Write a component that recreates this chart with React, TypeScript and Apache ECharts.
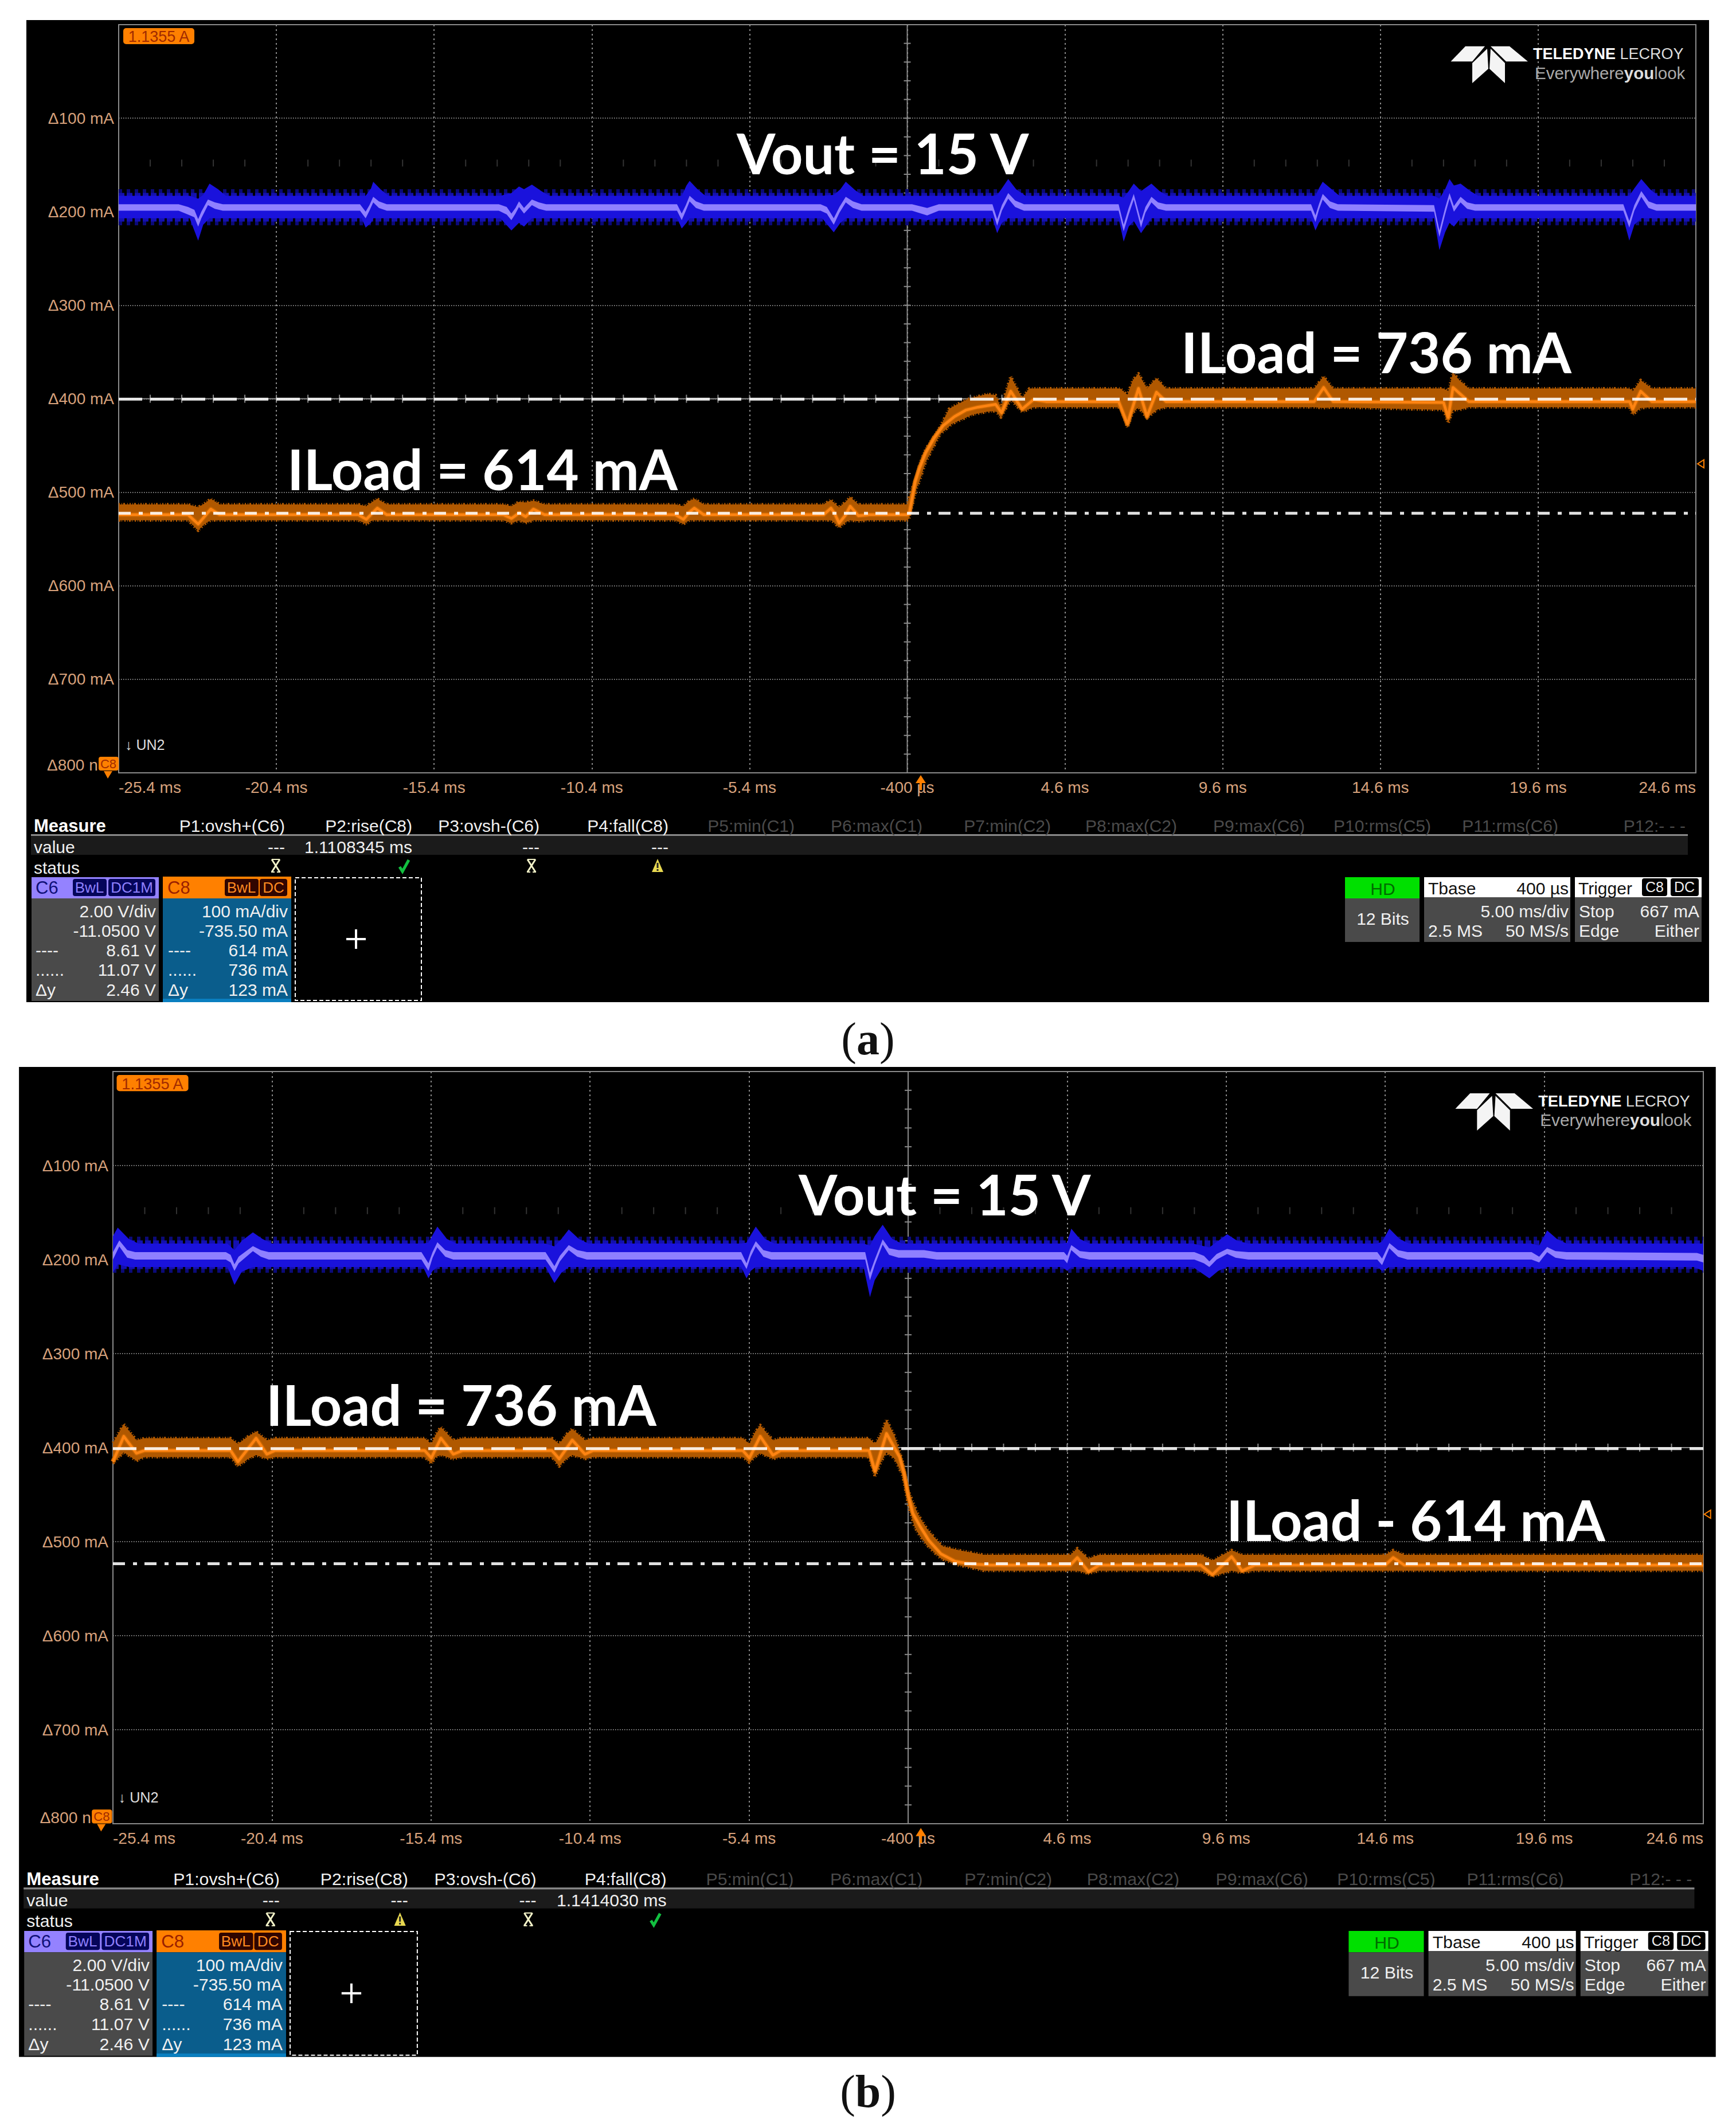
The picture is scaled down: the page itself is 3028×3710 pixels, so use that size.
import React, { useEffect, useRef } from "react";
import * as echarts from "echarts";

// ---- axes ----
const xTickLabels = ["-25.4 ms", "-20.4 ms", "-15.4 ms", "-10.4 ms", "-5.4 ms", "-400 µs", "4.6 ms", "9.6 ms", "14.6 ms", "19.6 ms", "24.6 ms"];
const yTickLabels = ["", "Δ100 mA", "Δ200 mA", "Δ300 mA", "Δ400 mA", "Δ500 mA", "Δ600 mA", "Δ700 mA", ""];
const lastYLabel = "Δ800 n";

// ---- cursors (mA below top of screen) ----
const cursorHighA = [[-25, 400.5], [25, 400.5]];
const cursorLowA = [[-25, 522.4], [25, 522.4]];
const cursorHighB = [[-25, 401], [25, 401]];
const cursorLowB = [[-25, 523.4], [25, 523.4]];

// ---- Vout persistence comb centre ----
const blueCombA = [[-25, 195.3], [25, 195.3]];
const blueCombB = [[-25, 194.8], [25, 194.8]];

// ---- rows: [ms from centre, upper edge, lower edge] ----
const blueEnvA = [
  [-25, 183, 207], [-22.75, 183, 207], [-22.48, 186, 231], [-22.32, 182, 214], [-22.12, 170, 207], [-21.85, 176, 207], [-21.6, 183, 207],
  [-17.3, 183, 207], [-17.17, 183, 217], [-17.0, 175, 212], [-16.93, 168, 207], [-16.7, 176, 207], [-16.45, 183, 207],
  [-12.9, 183, 207], [-12.55, 180, 220], [-12.31, 173, 212], [-12.15, 176, 216], [-11.9, 171, 207], [-11.6, 178, 207], [-11.35, 183, 207],
  [-7.3, 183, 207], [-7.15, 183, 218], [-7.0, 172, 212], [-6.9, 167, 207], [-6.65, 176, 207], [-6.4, 183, 207],
  [-2.7, 183, 207], [-2.33, 182, 222], [-2.12, 176, 212], [-1.95, 168, 207], [-1.65, 177, 207], [-1.4, 183, 207],
  [0.2, 183, 207], [0.63, 183, 209], [1.0, 183, 207],
  [2.7, 183, 207], [2.85, 182, 223], [3.0, 175, 212], [3.2, 165, 207], [3.45, 176, 207], [3.75, 183, 207],
  [6.7, 183, 207], [6.86, 185, 232], [7.02, 178, 216], [7.18, 170, 210], [7.41, 178, 223], [7.74, 170, 207], [8.0, 178, 207], [8.25, 183, 207],
  [12.8, 183, 207], [12.94, 183, 220], [13.05, 175, 212], [13.17, 168, 207], [13.45, 176, 207], [13.7, 183, 207],
  [16.7, 183, 207], [16.87, 186, 241], [17.05, 176, 222], [17.19, 165, 212], [17.33, 172, 216], [17.54, 170, 207], [17.85, 178, 207], [18.1, 183, 207],
  [22.7, 183, 207], [22.89, 183, 231], [23.05, 175, 214], [23.27, 165, 207], [23.55, 176, 207], [23.8, 183, 207],
  [25, 183, 207],
];
const blueCoreA = [
  [-25, 192, 199], [-23.1, 192, 199], [-22.8, 195, 203], [-22.6, 198, 206], [-22.48, 208, 216], [-22.38, 200, 207], [-22.17, 187, 193], [-21.95, 190, 197], [-21.7, 192, 199],
  [-17.35, 192, 199], [-17.17, 200, 207], [-17.05, 193, 199], [-16.93, 184, 190], [-16.75, 189, 196], [-16.5, 192, 199],
  [-12.95, 192, 199], [-12.7, 195, 203], [-12.55, 202, 209], [-12.42, 196, 202], [-12.31, 189, 195], [-12.15, 196, 202], [-11.9, 187, 193], [-11.68, 190, 197], [-11.45, 192, 199],
  [-7.3, 192, 199], [-7.15, 202, 209], [-7.02, 193, 199], [-6.9, 183, 189], [-6.7, 189, 196], [-6.45, 192, 199],
  [-2.75, 192, 199], [-2.55, 195, 202], [-2.33, 207, 214], [-2.15, 195, 201], [-1.95, 184, 190], [-1.72, 189, 196], [-1.45, 192, 199],
  [0.15, 192, 199], [0.63, 196, 204], [1.0, 192, 199],
  [2.7, 192, 199], [2.85, 208, 215], [3.0, 193, 199], [3.2, 180, 186], [3.42, 188, 195], [3.7, 192, 199],
  [6.7, 192, 199], [6.86, 214, 221], [7.02, 196, 203], [7.18, 181, 187], [7.41, 210, 217], [7.55, 195, 201], [7.74, 184, 190], [7.95, 190, 197], [8.2, 192, 199],
  [12.8, 192, 199], [12.94, 204, 211], [13.05, 192, 198], [13.17, 181, 187], [13.4, 189, 196], [13.65, 192, 199],
  [16.7, 193, 200], [16.87, 220, 227], [17.05, 196, 203], [17.19, 180, 186], [17.33, 194, 200], [17.54, 184, 190], [17.75, 190, 197], [18.0, 192, 199],
  [22.7, 192, 199], [22.89, 210, 217], [23.05, 193, 199], [23.27, 178, 184], [23.5, 189, 196], [23.75, 192, 199],
  [25, 192, 199],
];
const blueEnvB = [
  [-25, 175, 214], [-24.85, 166, 205], [-24.5, 178, 208], [-24.2, 183, 208], [-21.4, 183, 208], [-21.18, 190, 227], [-20.95, 180, 213], [-20.6, 171, 208], [-20.3, 178, 208], [-20.0, 183, 208],
  [-15.25, 183, 208], [-15.08, 182, 220], [-14.95, 174, 212], [-14.8, 165, 208], [-14.5, 178, 208], [-14.2, 183, 208],
  [-11.4, 183, 208], [-11.12, 186, 225], [-10.9, 178, 214], [-10.67, 168, 208], [-10.35, 178, 208], [-10.05, 183, 208],
  [-5.25, 183, 208], [-5.08, 182, 220], [-4.95, 174, 212], [-4.79, 165, 208], [-4.5, 178, 208], [-4.2, 183, 208],
  [-1.4, 183, 208], [-1.2, 185, 240], [-1.05, 175, 222], [-0.8, 163, 208], [-0.5, 178, 208], [-0.2, 183, 208],
  [4.85, 183, 208], [5.0, 182, 212], [5.13, 167, 208], [5.4, 178, 208], [5.7, 183, 208],
  [8.95, 183, 208], [9.47, 187, 220], [9.75, 180, 212], [10.03, 173, 208], [10.35, 180, 208], [10.7, 183, 208],
  [14.75, 183, 208], [14.9, 181, 212], [15.13, 167, 208], [15.45, 178, 208], [15.75, 183, 208],
  [19.6, 183, 208], [19.84, 185, 210], [20.09, 169, 208], [20.4, 178, 208], [20.7, 183, 208],
  [24.7, 183, 208], [25, 183, 212],
];
const blueCoreB = [
  [-25, 192, 200], [-24.8, 179.5, 186], [-24.55, 190, 198], [-24.3, 192, 200],
  [-21.45, 192, 200], [-21.3, 195, 203], [-21.18, 205, 212], [-21.05, 197, 204], [-20.6, 185.6, 191], [-20.35, 190, 197], [-20.1, 192, 200],
  [-15.3, 192, 200], [-15.08, 204, 212], [-14.95, 192, 198], [-14.8, 181.6, 187], [-14.55, 190, 197], [-14.3, 192, 200],
  [-11.4, 192, 200], [-11.12, 207, 214], [-10.95, 196, 202], [-10.67, 184.6, 190], [-10.4, 190, 197], [-10.1, 192, 200],
  [-5.25, 192, 200], [-5.08, 204, 210], [-4.95, 191, 197], [-4.79, 180.5, 186], [-4.55, 190, 197], [-4.3, 192, 200],
  [-1.35, 192, 200], [-1.2, 214, 222], [-1.05, 200, 206], [-0.8, 178.5, 184], [-0.6, 188, 195], [-0.3, 190, 198], [0.5, 190, 198], [0.9, 192, 200],
  [4.9, 192, 200], [5.0, 196, 204], [5.13, 184.6, 190], [5.4, 191, 198], [5.7, 192, 200],
  [9.0, 192, 200], [9.3, 196, 204], [9.47, 202, 208], [9.7, 194, 200], [10.03, 188.6, 194], [10.3, 191, 198], [10.7, 192, 200],
  [14.75, 192, 200], [14.9, 199, 206], [15.13, 182.5, 188], [15.4, 190, 197], [15.7, 192, 200],
  [19.6, 192, 200], [19.84, 197, 203], [20.09, 186.6, 192], [20.35, 191, 198], [20.7, 192, 200],
  [24.8, 193, 201], [25, 195, 203],
];
const orangeEnvA = [
  [-25, 513, 530], [-22.8, 513, 530], [-22.48, 516, 541], [-22.28, 512, 534], [-22.08, 507, 530], [-21.8, 513, 530],
  [-17.4, 513, 530], [-17.15, 515, 534], [-16.95, 510, 530], [-16.8, 507, 530], [-16.5, 513, 530],
  [-12.8, 513, 530], [-12.55, 515, 533], [-12.3, 510, 530], [-12.1, 511, 533], [-11.85, 509, 530], [-11.5, 513, 530],
  [-7.35, 513, 530], [-7.1, 515, 534], [-6.9, 509, 530], [-6.75, 507, 530], [-6.45, 513, 530],
  [-2.65, 513, 530], [-2.42, 508, 530], [-2.3, 512, 533], [-2.16, 516, 538], [-1.95, 510, 532], [-1.81, 505, 530], [-1.55, 513, 531], [-1.2, 513, 530],
  [0.0, 513, 530], [0.06, 505, 528], [0.3, 482, 495], [0.39, 470, 488], [0.58, 454, 468], [1.04, 430, 438], [1.32, 411, 430], [1.41, 409, 427], [1.87, 401, 420], [2.06, 399, 417], [2.52, 395, 414], [2.8, 396, 413], [2.97, 409, 420], [3.28, 376, 401], [3.64, 399, 414], [3.87, 389, 411], [4.0, 389, 409],
  [6.75, 389, 409], [6.98, 396, 431], [7.15, 380, 415], [7.33, 373, 409], [7.6, 389, 421], [7.9, 378, 412], [8.2, 389, 409],
  [12.9, 389, 409], [13.2, 376, 410], [13.5, 389, 409],
  [17.0, 389, 412], [17.15, 392, 426], [17.3, 372, 412], [17.5, 380, 412], [17.8, 389, 409],
  [22.9, 389, 409], [23.0, 392, 417], [23.25, 380, 410], [23.6, 389, 409], [25, 389, 409],
];
const orangeCoreA = [
  [-25, 524], [-22.8, 524], [-22.48, 534], [-22.28, 526], [-22.08, 518], [-21.8, 524], [-17.4, 524], [-17.15, 529], [-16.95, 522], [-16.8, 517], [-16.5, 524],
  [-12.8, 524], [-12.55, 528], [-12.3, 522], [-12.1, 526], [-11.85, 518], [-11.5, 524], [-7.35, 524], [-7.1, 529], [-6.9, 521], [-6.75, 517], [-6.45, 524],
  [-2.65, 524], [-2.42, 517], [-2.3, 523], [-2.16, 533], [-1.95, 524], [-1.81, 515], [-1.55, 525], [-1.2, 524], [0.0, 524], [0.06, 523], [0.25, 489], [0.39, 474], [0.58, 458], [0.85, 442], [1.13, 429], [1.5, 419], [1.87, 412], [2.24, 409], [2.8, 406], [2.99, 415], [3.28, 392], [3.64, 411], [4.0, 401], [4.4, 403],
  [6.7, 403], [6.98, 427], [7.33, 389], [7.6, 419], [7.9, 393], [8.2, 403], [12.9, 403], [13.2, 388], [13.5, 403], [17.0, 404], [17.15, 420], [17.3, 388], [17.5, 394], [17.8, 403], [22.9, 403], [23.0, 411], [23.25, 392], [23.6, 403], [25, 403],
];
const orangeEnvB = [
  [-25, 395, 417], [-24.66, 375, 405], [-24.26, 392, 414], [-24, 390, 410], [-21.3, 390, 410], [-21.07, 396, 420], [-20.75, 388, 412], [-20.5, 383, 408], [-20.16, 392, 412], [-19.9, 390, 410],
  [-15.2, 390, 410], [-14.99, 396, 417], [-14.85, 386, 410], [-14.69, 378, 408], [-14.3, 392, 412], [-14, 390, 410],
  [-11.2, 390, 410], [-10.97, 396, 420], [-10.75, 386, 412], [-10.56, 380, 408], [-10.16, 392, 412], [-9.9, 390, 410],
  [-5.2, 390, 410], [-4.99, 396, 416], [-4.82, 384, 410], [-4.65, 376, 406], [-4.25, 392, 412], [-4, 390, 410],
  [-1.23, 390, 410], [-1.04, 396, 431], [-0.85, 385, 415], [-0.68, 370, 405], [-0.42, 388, 412], [-0.17, 415, 430], [0.01, 446, 462], [0.2, 462, 484], [0.33, 472, 492], [0.57, 485, 503], [0.74, 492, 509], [1.03, 503, 518], [1.1, 505, 519], [1.58, 509, 525], [2.39, 514, 531],
  [5.1, 514, 531], [5.32, 507, 531], [5.67, 518, 534], [6.0, 514, 531], [9.2, 514, 531], [9.57, 520, 537], [10.17, 509, 531], [10.5, 514, 533], [10.9, 514, 531], [15.0, 514, 531], [15.25, 509, 531], [15.6, 514, 531], [25, 514, 531],
];
const orangeCoreB = [
  [-25, 415], [-24.66, 388], [-24.26, 406], [-24, 403], [-21.3, 403], [-21.07, 415], [-20.5, 390], [-20.16, 407], [-19.9, 403], [-15.2, 403], [-14.99, 411], [-14.69, 390], [-14.3, 407], [-14, 403], [-11.2, 403], [-10.97, 412], [-10.56, 392], [-10.16, 407], [-9.9, 403], [-5.2, 403], [-4.99, 411], [-4.65, 388], [-4.25, 408], [-4, 403],
  [-1.23, 403], [-1.04, 425], [-0.68, 385], [-0.27, 410], [-0.13, 427], [0.01, 452], [0.15, 470], [0.38, 484], [0.65, 498.6], [1.03, 513], [1.48, 521], [2.03, 524], [2.6, 525], [5.1, 525], [5.32, 517], [5.67, 532], [6.0, 525], [9.2, 525], [9.57, 535], [10.17, 516], [10.5, 531], [10.9, 525], [15.0, 525], [15.25, 517], [15.6, 525], [25, 525],
];

// ---- screen texts ----
const measureHeaders = ["P1:ovsh+(C6)", "P2:rise(C8)", "P3:ovsh-(C6)", "P4:fall(C8)", "P5:min(C1)", "P6:max(C1)", "P7:min(C2)", "P8:max(C2)", "P9:max(C6)", "P10:rms(C5)", "P11:rms(C6)", "P12:- - -"];
const measureValuesA = ["---", "1.1108345 ms", "---", "---"];
const measureValuesB = ["---", "---", "---", "1.1414030 ms"];
const statusA = ["bad", "ok", "bad", "warn"];
const statusB = ["bad", "warn", "bad", "ok"];
const c6Rows = ["2.00 V/div", "-11.0500 V", "8.61 V", "11.07 V", "2.46 V"];
const c8Rows = ["100 mA/div", "-735.50 mA", "614 mA", "736 mA", "123 mA"];
const rowKeys = ["", "", "----", "......", "Δy"];
const notesA = [["Vout = 15 V", 1285, 266], ["ILoad = 736 mA", 2060, 613], ["ILoad = 614 mA", 501, 817]];
const notesB = [["Vout = 15 V", 1393, 2082], ["ILoad = 736 mA", 464, 2449], ["ILoad - 614 mA", 2139, 2650]];

const FONT = "Liberation Sans";
const TAN = "#d8a27c";
const GRID = "#8a8a8a";

function bandSeries(rows: number[][], fill: string, g: number, z: number) {
  return {
    type: "custom", xAxisIndex: g, yAxisIndex: g, silent: true, data: rows, encode: { x: 0, y: [1, 2] }, z,
    renderItem(params: any, api: any) {
      if (params.dataIndex !== 0) return null;
      const up = rows.map((r) => api.coord([r[0], r[1]]));
      const low = rows.slice().reverse().map((r) => api.coord([r[0], r[2]]));
      return { type: "polygon", shape: { points: [...up, ...low] }, style: { fill } };
    },
  };
}
function lineSeries(rows: number[][], color: string, width: number, g: number, z: number, dash?: number[], opacity = 1) {
  return {
    type: "line", xAxisIndex: g, yAxisIndex: g, silent: true, symbol: "none", showSymbol: false, data: rows, z,
    lineStyle: { color, width, opacity, type: dash || "solid", cap: "butt", join: "round" },
  };
}
function tickSeries(rows: number[][], color: string, dx: number, dy: number, g: number) {
  return {
    type: "custom", xAxisIndex: g, yAxisIndex: g, silent: true, data: rows, encode: { x: 0, y: 1 }, z: 1,
    renderItem(_: any, api: any) {
      const p = api.coord([api.value(0), api.value(1)]);
      return { type: "line", shape: { x1: p[0] - dx, y1: p[1] - dy, x2: p[0] + dx, y2: p[1] + dy }, style: { stroke: color, lineWidth: 2 } };
    },
  };
}

function panelSeries(g: number, d: any) {
  const colTicks: number[][] = [];
  for (let v = 20; v < 800; v += 20) colTicks.push([0, v]);
  const rowTicks: number[][] = [];
  const faint: number[][] = [];
  for (let t = -24; t < 25; t += 1) {
    rowTicks.push([t, 400]);
    if (t % 5 !== 0) faint.push([t, 148]);
  }
  return [
    tickSeries(colTicks, "#8a8a8a", 6, 0, g),
    tickSeries(rowTicks, "#8a8a8a", 0, 7, g),
    tickSeries(faint, "#333", 0, 6, g),
    lineSeries([[0, 0], [0, 800]], GRID, 2, g, 1),
    lineSeries([[-25, 400], [25, 400]], GRID, 2, g, 1),
    lineSeries(d.comb, "#0b0a78", 63, g, 2, [6, 8]),
    lineSeries(d.comb, "#1410b0", 50, g, 3, [10, 4]),
    bandSeries(d.blueEnv, "#1a12dc", g, 4),
    bandSeries(d.blueCore, "#8f80ff", g, 5),
    bandSeries(d.orangeEnv, "#b05800", g, 6),
    lineSeries(d.orangeEnv.map((r: number[]) => [r[0], r[1]]), "#b05800", 5, g, 6, [2, 3, 1, 2, 3, 4, 1, 3]),
    lineSeries(d.orangeEnv.map((r: number[]) => [r[0], r[2]]), "#b05800", 5, g, 6, [3, 2, 1, 4, 2, 3, 1, 2]),
    lineSeries(d.orangeCore, "#c96600", 8, g, 7),
    lineSeries(d.orangeCore, "#ff8412", 4.5, g, 8),
    lineSeries(d.high, "#ffffff", 5, g, 9, [41, 14], 0.88),
    lineSeries(d.low, "#ffffff", 5, g, 9, [21, 14, 7, 13], 0.88),
  ];
}

function panelGraphics(X: (x: number) => number, Y: (y: number) => number, s: number, vals: string[], st: string[], notes: any[]) {
  const out: any[] = [];
  const Z = 10;
  const rect = (x0: number, y0: number, x1: number, y1: number, fill: string, extra: any = {}, z = Z) =>
    out.push({ type: "rect", z, silent: true, shape: { x: X(x0), y: Y(y0), width: X(x1) - X(x0), height: Y(y1) - Y(y0), r: extra.r || 0 }, style: { fill, stroke: extra.stroke, lineWidth: extra.lineWidth, lineDash: extra.lineDash } });
  const text = (x: number, y: number, t: string, fill: string, size = 30, align = "left", weight = "normal", family = FONT) =>
    out.push({ type: "text", z: Z + 1, silent: true, x: X(x), y: Y(y), style: { text: t, fill, fontSize: size * s, fontFamily: family, fontWeight: weight, align, verticalAlign: "middle" } });
  const seg = (x1: number, y1: number, x2: number, y2: number, stroke: string, w = 2) =>
    out.push({ type: "line", z: Z + 1, silent: true, shape: { x1: X(x1), y1: Y(y1), x2: X(x2), y2: Y(y2) }, style: { stroke, lineWidth: w } });
  const poly = (pts: number[][], fill: any, stroke?: string) =>
    out.push({ type: "polygon", z: Z + 1, silent: true, shape: { points: pts.map((p) => [X(p[0]), Y(p[1])]) }, style: { fill, stroke, lineWidth: 2 } });

  rect(46, 35, 2981, 1748, "#000", {}, -10);

  // screen labels
  rect(215, 49, 339, 77, "#ff8000", { r: 5 });
  text(277, 64, "1.1355 A", "#a02a00", 27, "center");
  text(218, 1299, "↓ UN2", "#dddddd", 25);
  text(82, 1334, lastYLabel, TAN, 28);
  rect(172, 1320, 207, 1344, "#ff8000", { r: 4 });
  text(189, 1332, "C8", "#a02a00", 22, "center");
  poly([[181, 1345], [196, 1345], [188, 1358]], "#ff8000");
  poly([[1606, 1352], [1597, 1366], [1615, 1366]], "#ff8000");
  seg(1606, 1362, 1606, 1378, "#ff8000", 4);
  poly([[2972, 802], [2972, 816], [2961, 809]], "none", "#ff8000");

  // logo
  poly([[2530.5, 107.3], [2556, 80.7], [2590, 80.7], [2568, 107.3]], "#f4f4f4");
  poly([[2600, 80.7], [2633, 80.7], [2665, 107.3], [2627, 107.3]], "#f4f4f4");
  poly([[2568, 110], [2594, 85], [2596, 120], [2568, 145]], "#f4f4f4");
  poly([[2600, 85], [2625, 110], [2625, 145], [2598, 120]], "#f4f4f4");
  out.push({ type: "text", z: Z + 1, silent: true, x: X(2674), y: Y(94), style: { text: "{b|TELEDYNE }{a|LECROY}", verticalAlign: "middle", rich: { b: { fontFamily: FONT, fontWeight: "bold", fontSize: 27 * s, fill: "#fff" }, a: { fontFamily: FONT, fontSize: 27 * s, fill: "#ddd" } } } });
  out.push({ type: "text", z: Z + 1, silent: true, x: X(2677), y: Y(127), style: { text: "{a|Everywhere}{b|you}{a|look}", verticalAlign: "middle", rich: { b: { fontFamily: FONT, fontWeight: "bold", fontSize: 29.5 * s, fill: "#ddd" }, a: { fontFamily: FONT, fontSize: 29.5 * s, fill: "#aaa" } } } });

  // measure table
  const headerRight = [497, 719, 941, 1166, 1386, 1609, 1833, 2053, 2276, 2496, 2718, 2940];
  text(59, 1440, "Measure", "#fff", 31, "left", "bold");
  measureHeaders.forEach((h, i) => text(headerRight[i], 1440, h, i < 4 ? "#f0f0f0" : "#4a4a4a", 30, "right"));
  rect(54, 1456, 2944, 1491, "#1b1b1b");
  rect(54, 1455, 2944, 1458, "#8a8a8a");
  text(59, 1477, "value", "#f0f0f0");
  text(59, 1513, "status", "#f0f0f0");
  vals.forEach((v, i) => text(headerRight[i], 1477, v, "#f0f0f0", 30, "right"));
  const iconX = [481, 705, 927, 1147];
  st.forEach((k, i) => {
    const cx = iconX[i], cy = 1510;
    if (k === "bad") {
      seg(cx - 7, cy - 11, cx + 7, cy + 11, "#f2f2c8", 3);
      seg(cx + 7, cy - 11, cx - 7, cy + 11, "#f2f2c8", 3);
      seg(cx - 7, cy - 11, cx + 7, cy - 11, "#f2f2c8", 2);
      seg(cx - 8, cy + 11, cx - 2, cy + 11, "#f2f2c8", 2);
      seg(cx + 2, cy + 11, cx + 8, cy + 11, "#f2f2c8", 2);
    } else if (k === "ok") {
      out.push({ type: "polyline", z: Z + 1, silent: true, shape: { points: [[X(cx - 8), Y(cy + 2)], [X(cx - 3), Y(cy + 10)], [X(cx + 8), Y(cy - 10)]] }, style: { stroke: "#12c040", lineWidth: 5, fill: "none" } });
    } else {
      poly([[cx, cy - 12], [cx + 10, cy + 11], [cx - 10, cy + 11]], "#e8d850");
      seg(cx, cy - 5, cx, cy + 4, "#222", 3);
      seg(cx, cy + 6, cx, cy + 9, "#222", 3);
    }
  });

  // channel C6
  rect(55, 1530, 277, 1567, "#9482ff");
  rect(55, 1567, 277, 1746, "#4a4a4a");
  text(62, 1548, "C6", "#101078", 31);
  rect(127, 1533, 186, 1563, "#05055a", { r: 4 });
  rect(189, 1533, 271, 1563, "#05055a", { r: 4 });
  text(156, 1548, "BwL", "#8f80ff", 26, "center");
  text(230, 1548, "DC1M", "#8f80ff", 26, "center");
  // channel C8
  rect(284, 1529, 508, 1567, "#ff8000");
  rect(284, 1567, 508, 1748, "#0a5d8c");
  rect(284, 1742, 508, 1748, "#0a7fc0");
  text(292, 1548, "C8", "#9a2000", 31);
  rect(392, 1533, 451, 1563, "#300500", { r: 4 });
  rect(453, 1533, 501, 1563, "#300500", { r: 4 });
  text(421, 1548, "BwL", "#ff8a20", 26, "center");
  text(477, 1548, "DC", "#ff8a20", 26, "center");
  const rowY = [1589, 1623, 1657, 1691, 1726];
  c6Rows.forEach((t, i) => text(272, rowY[i], t, "#f0f0f0", 30, "right"));
  c8Rows.forEach((t, i) => text(502, rowY[i], t, "#f0f0f0", 30, "right"));
  rowKeys.forEach((t, i) => {
    if (!t) return;
    text(62, rowY[i], t, "#f0f0f0", 30);
    text(293, rowY[i], t, "#f0f0f0", 30);
  });
  // add slot
  rect(515, 1531, 735, 1745, "none", { stroke: "#fff", lineWidth: 2, lineDash: [7, 4] });
  seg(604, 1638, 638, 1638, "#fff", 4);
  seg(621, 1621, 621, 1655, "#fff", 4);

  // acquisition
  rect(2346, 1530, 2476, 1567, "#00e000");
  rect(2346, 1567, 2476, 1643, "#4a4a4a");
  text(2412, 1550, "HD", "#006a00", 30, "center");
  text(2412, 1602, "12 Bits", "#f0f0f0", 30, "center");
  rect(2484, 1530, 2739, 1565, "#ffffff");
  rect(2484, 1565, 2739, 1643, "#4a4a4a");
  text(2491, 1549, "Tbase", "#111", 30);
  text(2736, 1549, "400 µs", "#111", 30, "right");
  text(2736, 1589, "5.00 ms/div", "#f0f0f0", 30, "right");
  text(2491, 1623, "2.5 MS", "#f0f0f0", 30);
  text(2736, 1623, "50 MS/s", "#f0f0f0", 30, "right");
  rect(2747, 1530, 2968, 1565, "#ffffff");
  rect(2747, 1565, 2968, 1643, "#4a4a4a");
  text(2753, 1549, "Trigger", "#111", 30);
  rect(2864, 1532, 2908, 1563, "#000", { r: 4 });
  rect(2914, 1532, 2963, 1563, "#000", { r: 4 });
  text(2886, 1547, "C8", "#eee", 25, "center");
  text(2938, 1547, "DC", "#eee", 25, "center");
  text(2754, 1589, "Stop", "#f0f0f0", 30);
  text(2964, 1589, "667 mA", "#f0f0f0", 30, "right");
  text(2754, 1623, "Edge", "#f0f0f0", 30);
  text(2964, 1623, "Either", "#f0f0f0", 30, "right");

  // annotations (page coordinates)
  notes.forEach((n) => out.push({ type: "text", z: Z + 2, silent: true, x: n[1], y: n[2], style: { text: n[0], fill: "#fff", fontSize: 97, fontFamily: "Lato", fontWeight: "bold", align: "left", verticalAlign: "middle" } }));
  return out;
}

function caption(letter: string, y: number) {
  return {
    type: "text", z: 12, silent: true, x: 1514, y,
    style: {
      text: `{n|(}{b|${letter}}{n|)}`, align: "center", verticalAlign: "middle",
      rich: { n: { fontFamily: "Liberation Serif", fontSize: 80, fill: "#111" }, b: { fontFamily: "Liberation Serif", fontWeight: "bold", fontSize: 80, fill: "#111" } },
    },
  };
}

function xAxis(g: number) {
  return {
    type: "value", gridIndex: g, min: -25, max: 25, interval: 5,
    axisLine: { show: false }, axisTick: { show: false },
    splitLine: { show: true, lineStyle: { color: GRID, width: 2, type: [3, 5] } },
    axisLabel: {
      color: TAN, fontSize: 28, fontFamily: FONT, margin: 11, alignMinLabel: "left", alignMaxLabel: "right",
      formatter: (v: number) => xTickLabels[Math.round((v + 25) / 5)],
    },
  };
}
function yAxis(g: number) {
  return {
    type: "value", gridIndex: g, min: 0, max: 800, interval: 100, inverse: true,
    axisLine: { show: false }, axisTick: { show: false },
    splitLine: { show: true, lineStyle: { color: GRID, width: 2, type: [1.5, 2.5] } },
    axisLabel: {
      color: TAN, fontSize: 28, fontFamily: FONT, margin: 8, padding: [4, 0, 0, 0],
      formatter: (v: number) => yTickLabels[Math.round(v / 100)],
    },
  };
}

export default function App() {
  const ref = useRef<HTMLDivElement>(null);
  useEffect(() => {
    const chart = echarts.init(ref.current!, undefined, { renderer: "svg" });
    const border = { show: true, backgroundColor: "transparent", borderColor: "#8a8a8a", borderWidth: 2 };
    const XB = (x: number) => 1582 + (x - 1582) * 1.0084;
    const YB = (y: number) => 1861 + (y - 35) * 1.008;
    chart.setOption({
      animation: false,
      backgroundColor: "#ffffff",
      grid: [
        { left: 207, top: 43, width: 2751, height: 1305, ...border },
        { left: 197, top: 1869, width: 2774, height: 1312, ...border },
      ],
      xAxis: [xAxis(0), xAxis(1)],
      yAxis: [yAxis(0), yAxis(1)],
      series: [
        ...panelSeries(0, { comb: blueCombA, blueEnv: blueEnvA, blueCore: blueCoreA, orangeEnv: orangeEnvA, orangeCore: orangeCoreA, high: cursorHighA, low: cursorLowA }),
        ...panelSeries(1, { comb: blueCombB, blueEnv: blueEnvB, blueCore: blueCoreB, orangeEnv: orangeEnvB, orangeCore: orangeCoreB, high: cursorHighB, low: cursorLowB }),
      ],
      graphic: {
        elements: [
          ...panelGraphics((x) => x, (y) => y, 1, measureValuesA, statusA, notesA),
          ...panelGraphics(XB, YB, 1.008, measureValuesB, statusB, notesB),
          caption("a", 1812),
          caption("b", 3648),
        ],
      },
    });
    return () => chart.dispose();
  }, []);
  return <div ref={ref} style={{ position: "absolute", left: 0, top: 0, width: 3028, height: 3710 }} />;
}
